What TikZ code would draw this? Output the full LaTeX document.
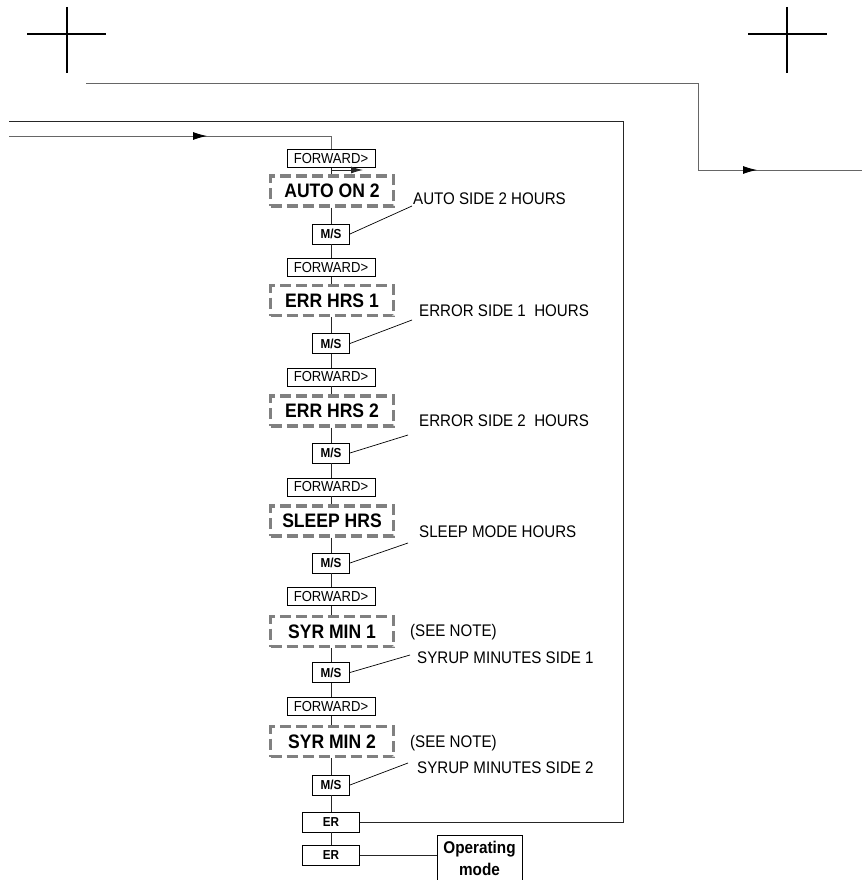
\documentclass[tikz,border=0pt]{standalone}
\usepackage{fontspec}
\setmainfont{Liberation Sans}[FakeStretch=0.9]
\usetikzlibrary{arrows.meta,decorations.markings}
\begin{document}
\begin{tikzpicture}[x=1pt,y=-1pt,
 conn/.style={draw=black!85, line width=0.9pt},
 fwd/.style={draw, line width=0.9pt, fill=white, minimum width=88pt, minimum height=18pt, inner sep=0pt, font=\fontsize{14.5}{16}\selectfont},
 disp/.style={draw=black!50, line width=3.2pt, dash pattern=on 11pt off 5pt, fill=white, minimum width=123pt, minimum height=30pt, inner sep=0pt, font=\bfseries\fontsize{19.5}{22}\selectfont},
 ms/.style={draw, line width=0.9pt, fill=white, minimum width=37pt, minimum height=20pt, inner sep=0pt, font=\bfseries\fontsize{13}{15}\selectfont},
 erbox/.style={ms, minimum width=57pt},
 lbl/.style={anchor=west, inner sep=0pt, font=\fontsize{16.8}{19}\selectfont},
 leader/.style={draw=black, line width=0.7pt},
 mid arrow/.style={postaction={decorate}, decoration={markings, mark=at position #1 with {\arrow[black]{Latex[length=14pt,width=8pt]}}}},
]
\useasboundingbox (0,0) rectangle (862,880);

% registration crosses
\draw[line width=1.5pt] (67,7) -- (67,73) (27,34) -- (106,34);
\draw[line width=1.5pt] (787,7) -- (787,73) (748,34) -- (827,34);

% column nodes
\node[fwd]  (f1) at (331,158.5) {FORWARD>};
\node[disp] (d1) at (332,191) {AUTO ON 2};
\node[ms]   (m1) at (331,234) {M/S};

\node[fwd]  (f2) at (331,267.5) {FORWARD>};
\node[disp] (d2) at (332,300.5) {ERR HRS 1};
\node[ms]   (m2) at (331,343.5) {M/S};

\node[fwd]  (f3) at (331,377) {FORWARD>};
\node[disp] (d3) at (332,411) {ERR HRS 2};
\node[ms]   (m3) at (331,453) {M/S};

\node[fwd]  (f4) at (331,487) {FORWARD>};
\node[disp] (d4) at (332,521) {SLEEP HRS};
\node[ms]   (m4) at (331,563) {M/S};

\node[fwd]  (f5) at (331,596.5) {FORWARD>};
\node[disp] (d5) at (332,631.5) {SYR MIN 1};
\node[ms]   (m5) at (331,672.5) {M/S};

\node[fwd]  (f6) at (331,706.5) {FORWARD>};
\node[disp] (d6) at (332,741.5) {SYR MIN 2};
\node[ms]   (m6) at (331,785) {M/S};

\node[erbox] (er1) at (331,822) {ER};
\node[erbox] (er2) at (331,855.5) {ER};

\node[draw, line width=0.9pt, anchor=north, minimum width=85pt, minimum height=70pt] (om) at (479.5,835) {};
\node[font=\bfseries\fontsize{17}{22}\selectfont, align=center, inner sep=0pt] (omt) at (479.5,858.5) {Operating\\mode};

% column connectors
\foreach \i in {1,...,6}{
  \draw[conn] (f\i.south) -- (f\i.south |- d\i.north);
  \draw[conn] (m\i.north |- d\i.south) -- (m\i.north);
}
\foreach \i/\j in {1/2,2/3,3/4,4/5,5/6}{
  \draw[conn] (m\i.south) -- (f\j.north);
}
\draw[conn] (m6.south) -- (er1.north);
\draw[conn] (er1.south) -- (er2.north);
\draw[conn] (er2.east) -- (er2.east -| om.west);

% labels
\node[lbl] (l1) at (413,199) {AUTO SIDE 2 HOURS};
\node[lbl] (l2) at (419,311) {ERROR SIDE 1\ \ HOURS};
\node[lbl] (l3) at (419,421) {ERROR SIDE 2\ \ HOURS};
\node[lbl] (l4) at (419,532) {SLEEP MODE HOURS};
\node[lbl] (n5) at (410,632) {(SEE NOTE)};
\node[lbl] (l5) at (417,658) {SYRUP MINUTES SIDE 1};
\node[lbl] (n6) at (410,743) {(SEE NOTE)};
\node[lbl] (l6) at (417,768) {SYRUP MINUTES SIDE 2};

% leader lines
\coordinate (e1) at (412,206);
\coordinate (e2) at (412,320);
\coordinate (e3) at (408,435);
\coordinate (e4) at (408,543);
\coordinate (e5) at (410,655);
\coordinate (e6) at (408,763);
\foreach \i in {1,...,6}{
  \draw[leader] (m\i.east) -- (e\i);
}

% return frame from ER
\coordinate (fr) at (623,121);
\coordinate (frl) at (9,121);
\draw[conn] (er1.east) -| (fr) -- (frl);

% incoming arrow line
\coordinate (al) at (9,136);
\coordinate (ac) at (331,136);
\draw[conn, draw=black!60, mid arrow=198pt] (al) -- (ac) -- (f1.north);

% small arrow under first FORWARD
\coordinate (sa) at (332,170);
\coordinate (sb) at (363,170);
\draw[conn, -{Latex[length=12pt,width=7pt]}] (sa) -- (sb);

% top outgoing line
\coordinate (t1) at (86,83);
\coordinate (t2) at (698,83);
\coordinate (t3) at (698,170);
\coordinate (t4) at (862,170);
\draw[conn, draw=black!60, mid arrow=758pt] (t1) -- (t2) -- (t3) -- (t4);
\end{tikzpicture}
\end{document}
